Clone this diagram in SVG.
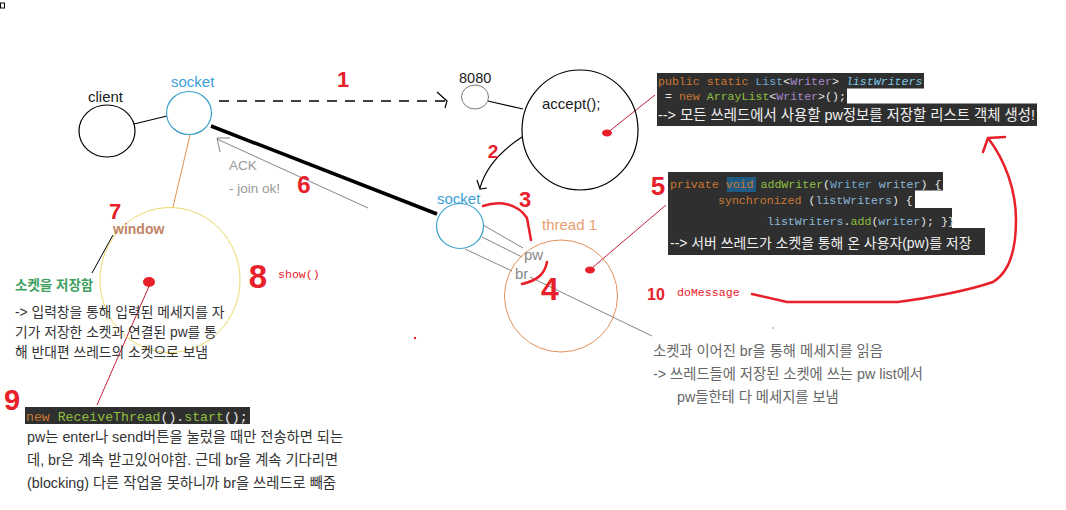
<svg xmlns="http://www.w3.org/2000/svg" width="1066" height="510" viewBox="0 0 1066 510">
<style>
.t{font-family:"Liberation Sans","Noto Sans CJK KR",sans-serif;}
.m{font-family:"Liberation Mono","Noto Sans CJK KR",monospace;font-size:11.6px;}
.num{font-family:"Liberation Sans",sans-serif;font-weight:bold;fill:#e8202a;text-anchor:middle;}
.sock{fill:none;stroke:#3aa0c8;stroke-width:1.2;}
.blk{fill:none;stroke:#000;stroke-width:1.2;}
.red{fill:none;stroke:#e8202a;stroke-width:2.5;stroke-linecap:round;stroke-linejoin:round;}
.dred{fill:none;stroke:#c0203a;stroke-width:1;}
.gray{fill:none;stroke:#777;stroke-width:0.9;}
.box{fill:#2f2f2f;}
.kw{fill:#cc7832;}
.cl{fill:#6fa8d0;}
.ty{fill:#a988c8;}
.fn{fill:#90c040;}
.wh{fill:#e8e8e8;}
.it{fill:#7ec8e8;font-style:italic;}
.vr{fill:#8cb8d8;}
.kr{font-family:"Liberation Sans","Noto Sans CJK KR",sans-serif;fill:#f0f0f0;}
.body{fill:#333;}
</style>
<rect width="1066" height="510" fill="#fff"/>
<rect x="0.5" y="3" width="4" height="5" fill="none" stroke="#000" stroke-width="1"/>

<g id="connectors">
  <line x1="134" y1="124" x2="167" y2="116" class="blk"/>
  <line x1="190" y1="135" x2="173" y2="207" stroke="#e09050" stroke-width="1"/>
  <line x1="219" y1="101" x2="445" y2="101" stroke="#000" stroke-width="1.3" stroke-dasharray="10 8"/>
  <path d="M437,92 L447,101 L445,108" class="blk"/>
  <line x1="488" y1="101" x2="523" y2="109" class="blk"/>
  <path d="M522,137 C502,150 486,166 480,188" class="blk"/>
  <path d="M477,180 L480,189 L487,188" class="blk"/>
  <line x1="211" y1="126" x2="437" y2="214" stroke="#000" stroke-width="3.5"/>
  <line x1="217" y1="139" x2="368" y2="208" class="gray"/>
  <path d="M230,138 L217,138 L220,152" class="gray"/>
  <line x1="483" y1="225" x2="523" y2="248" class="gray"/>
  <line x1="482" y1="237" x2="522" y2="257" class="gray"/>
  <line x1="465" y1="249" x2="512" y2="271" class="gray"/>
  <line x1="530" y1="277" x2="652" y2="336" class="gray"/>
  <line x1="113" y1="235" x2="92" y2="273" stroke="#000" stroke-width="1"/>
  <line x1="607" y1="133" x2="655" y2="95" class="dred"/>
  <line x1="592" y1="268" x2="666" y2="205" class="dred"/>
  <line x1="150" y1="284" x2="97" y2="405" class="dred"/>
  <path d="M483,206 C500,200 518,204 527,218 L531,240" class="red" stroke-width="3"/>
  <path d="M547,262 C545,272 540,280 522,284" class="red" stroke-width="3"/>
  <path d="M752,294 L787,302 L898,302 C930,298 970,290 993,282 C1010,272 1016,250 1016,220 C1016,190 1005,160 988,138" class="red" stroke-width="2"/>
  <path d="M983,152 L988,138 L1005,137" class="red" stroke-width="2"/>
  <ellipse cx="607" cy="133" rx="5" ry="3.5" fill="#e8202a"/>
  <ellipse cx="590" cy="270" rx="5" ry="3.5" fill="#e8202a"/>
  <ellipse cx="149" cy="282" rx="6" ry="5" fill="#e8202a"/>
  <circle cx="415" cy="338" r="1.2" fill="#e8202a"/>
  <circle cx="773" cy="328" r="0.8" fill="#888"/>
</g>

<g id="client">
  <ellipse cx="107" cy="131" rx="28" ry="26" class="blk"/>
  <text x="88" y="102" class="t" font-size="15" fill="#222">client</text>
</g>
<g id="socket-left">
  <ellipse cx="189" cy="113" rx="22.5" ry="21.5" class="sock"/>
  <text x="171" y="87" class="t" font-size="15" fill="#3a9fd8">socket</text>
</g>
<g id="port-8080">
  <ellipse cx="475" cy="97" rx="13.5" ry="12" fill="none" stroke="#777" stroke-width="1"/>
  <text x="459" y="83" class="t" font-size="14.5" fill="#222">8080</text>
</g>
<g id="accept">
  <ellipse cx="580" cy="130" rx="58" ry="60" class="blk"/>
  <text x="542" y="109" class="t" font-size="15" fill="#222">accept();</text>
</g>
<g id="socket-right">
  <ellipse cx="460" cy="226" rx="23.5" ry="22.5" class="sock"/>
  <text x="437" y="204" class="t" font-size="15" fill="#3a9fd8">socket</text>
</g>
<g id="thread1">
  <ellipse cx="561" cy="296" rx="56.5" ry="56" fill="none" stroke="#e0925a" stroke-width="1"/>
  <text x="542" y="230" class="t" font-size="15" fill="#e8a070">thread 1</text>
  <text x="524" y="260" class="t" font-size="15" fill="#888">pw</text>
  <text x="515" y="279" class="t" font-size="15" fill="#888">br</text>
</g>
<g id="window">
  <ellipse cx="170" cy="280" rx="70" ry="72.5" fill="none" stroke="#ecd868" stroke-width="1"/>
  <text x="113" y="234" class="t" font-size="14" font-weight="bold" fill="#c08466">window</text>
</g>

<g id="ack-label">
  <text x="229" y="170" class="t" font-size="13.5" fill="#999">ACK</text>
  <text x="229" y="193" class="t" font-size="13.5" fill="#999">- join ok!</text>
</g>

<g id="code-list">
  <rect x="657" y="73" width="267" height="15.5" class="box"/>
  <rect x="657" y="88" width="190" height="16" class="box"/>
  <rect x="657" y="103.5" width="380" height="22.5" class="box"/>
  <text x="658" y="84.5" class="m"><tspan class="kw">public static </tspan><tspan class="cl">List</tspan><tspan class="wh">&lt;</tspan><tspan class="ty">Writer</tspan><tspan class="wh">&gt; </tspan><tspan class="it">listWriters</tspan></text>
  <text x="658" y="100" class="m" xml:space="preserve"><tspan class="wh"> = </tspan><tspan class="kw">new </tspan><tspan class="fn">ArrayList</tspan><tspan class="wh">&lt;</tspan><tspan class="ty">Writer</tspan><tspan class="wh">&gt;();</tspan></text>
  <text x="658" y="119.5" class="kr" font-size="14.4">--&gt; 모든 쓰레드에서 사용할 pw정보를 저장할 리스트 객체 생성!</text>
</g>

<g id="code-addwriter">
  <rect x="668" y="172" width="275" height="18.5" class="box"/>
  <rect x="668" y="190" width="247" height="18.5" class="box"/>
  <rect x="668" y="208" width="284" height="20.5" class="box"/>
  <rect x="668" y="228" width="317" height="27" class="box"/>
  <rect x="727" y="177" width="29" height="15" fill="#1f5a82"/>
  <text x="670" y="188" class="m"><tspan class="kw">private </tspan><tspan class="kw">void </tspan><tspan class="fn">addWriter</tspan><tspan class="wh">(</tspan><tspan class="cl">Writer </tspan><tspan class="vr">writer</tspan><tspan class="wh">) {</tspan></text>
  <text x="718" y="204" class="m"><tspan class="kw">synchronized </tspan><tspan class="wh">(</tspan><tspan class="vr">listWriters</tspan><tspan class="wh">) {</tspan></text>
  <text x="767" y="225" class="m"><tspan class="vr">listWriters</tspan><tspan class="wh">.</tspan><tspan class="fn">add</tspan><tspan class="wh">(</tspan><tspan class="vr">writer</tspan><tspan class="wh">); }}</tspan></text>
  <text x="670" y="247.5" class="kr" font-size="13.9">--&gt; 서버 쓰레드가 소켓을 통해 온 사용자(pw)를 저장</text>
</g>

<g id="note-window">
  <text x="15" y="290" class="t" font-size="13.5" font-weight="bold" fill="#40a060">소켓을 저장함</text>
  <text x="15" y="317" class="t body" font-size="13.8">-&gt; 입력창을 통해 입력된 메세지를 자</text>
  <text x="15" y="337" class="t body" font-size="13.8">기가 저장한 소켓과 연결된 pw를 통</text>
  <text x="15" y="357" class="t body" font-size="13.8">해 반대편 쓰레드의 소켓으로 보냄</text>
</g>

<g id="note-receive">
  <rect x="25" y="407" width="225" height="17" class="box"/>
  <text x="26" y="420.5" class="m" style="font-size:13.2px"><tspan class="kw">new </tspan><tspan class="fn">ReceiveThread</tspan><tspan class="wh">().</tspan><tspan class="fn">start</tspan><tspan class="wh">();</tspan></text>
  <text x="27" y="442" class="t body" font-size="14.3">pw는 enter나 send버튼을 눌렀을 때만 전송하면 되는</text>
  <text x="27" y="465" class="t body" font-size="14.3">데, br은 계속 받고있어야함. 근데 br을 계속 기다리면</text>
  <text x="27" y="488" class="t body" font-size="14.3">(blocking) 다른 작업을 못하니까 br을 쓰레드로 빼줌</text>
</g>

<g id="note-br">
  <text x="653" y="356" class="t" font-size="14.3" fill="#666">소켓과 이어진 br을 통해 메세지를 읽음</text>
  <text x="653" y="379" class="t" font-size="14.3" fill="#666">-&gt; 쓰레드들에 저장된 소켓에 쓰는 pw list에서</text>
  <text x="677" y="402" class="t" font-size="14.3" fill="#666">pw들한테 다 메세지를 보냄</text>
</g>

<g id="methods">
  <text x="278" y="278" class="m" fill="#e8202a">show()</text>
  <text x="677" y="296" class="m" fill="#e8202a">doMessage</text>
</g>

<g id="numbers">
  <text x="343" y="87" class="num" font-size="22">1</text>
  <text x="493" y="158" class="num" font-size="19">2</text>
  <text x="525" y="207" class="num" font-size="22">3</text>
  <text x="550" y="300" class="num" font-size="32">4</text>
  <text x="658" y="195" class="num" font-size="26">5</text>
  <text x="304" y="193" class="num" font-size="24">6</text>
  <text x="115" y="219" class="num" font-size="22">7</text>
  <text x="258" y="288" class="num" font-size="33">8</text>
  <text x="12" y="410" class="num" font-size="29">9</text>
  <text x="656" y="300" class="num" font-size="16">10</text>
</g>
</svg>
